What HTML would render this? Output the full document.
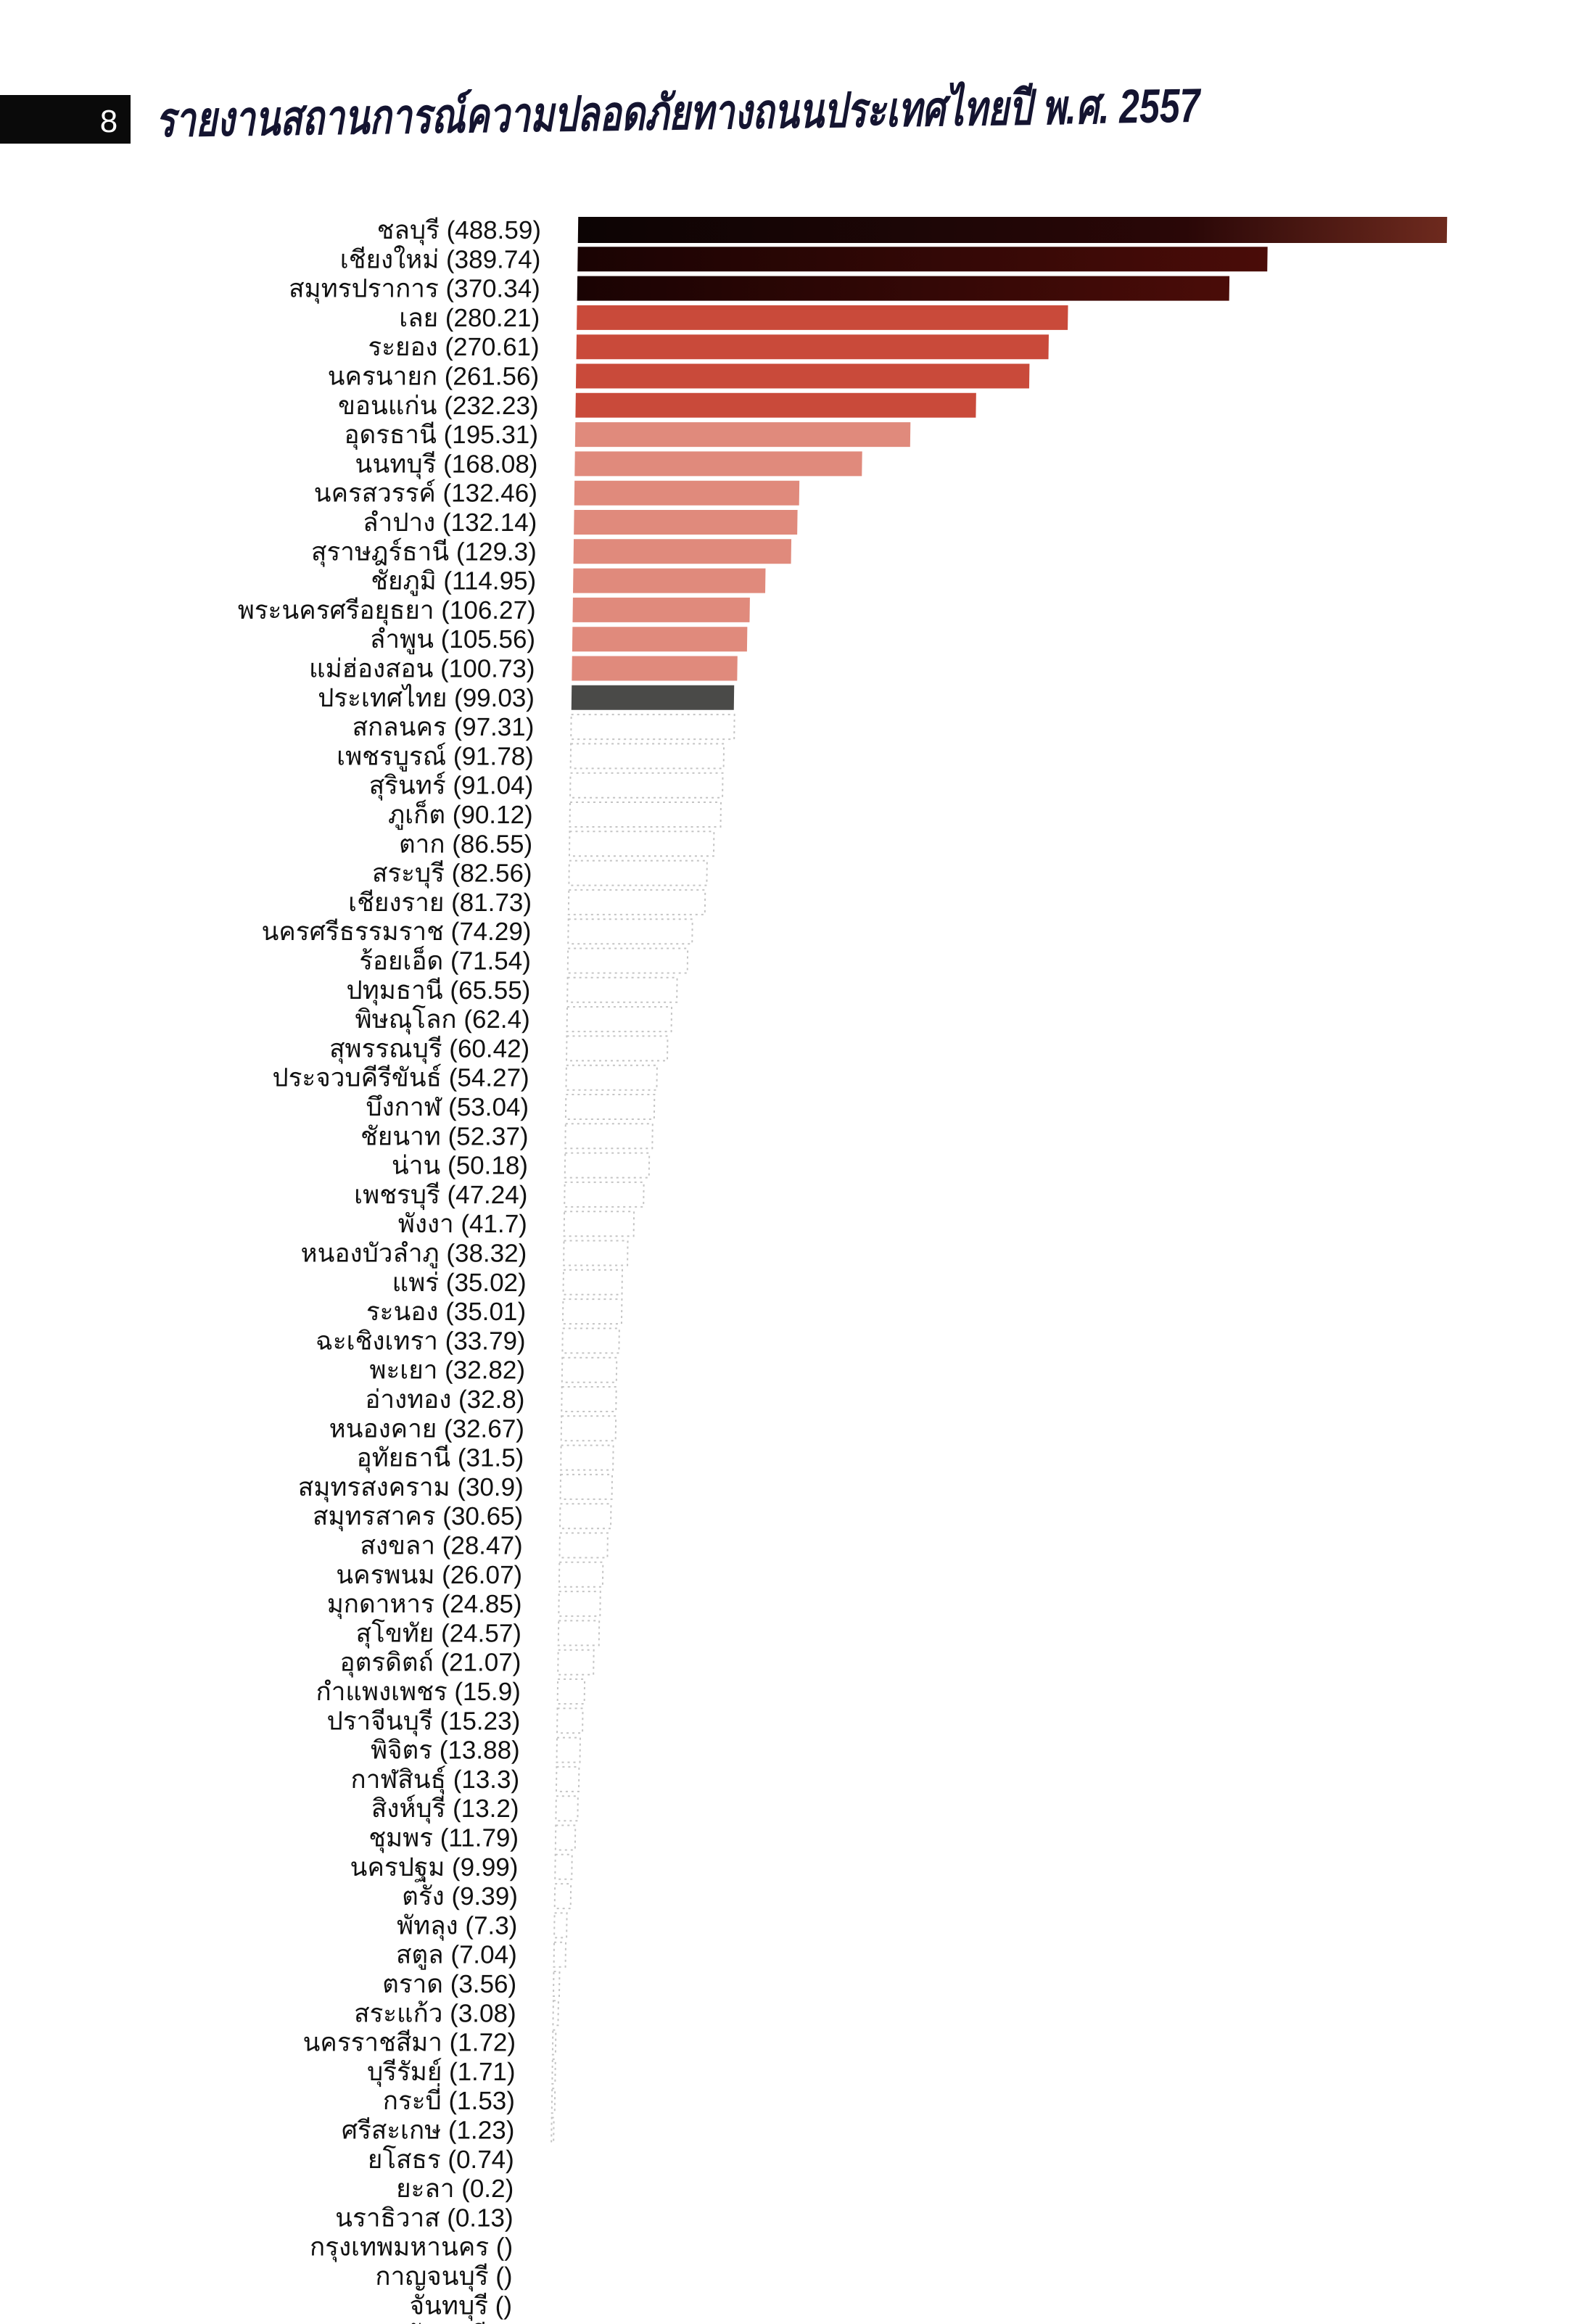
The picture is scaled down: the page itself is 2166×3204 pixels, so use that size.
<!DOCTYPE html>
<html><head><meta charset="utf-8"><style>
html,body{margin:0;padding:0;background:#fff;}
svg{display:block}
.l{font-family:"Liberation Sans","Noto Sans CJK SC",sans-serif;font-size:35px;fill:#111;text-anchor:end}
.d{fill:#fff;stroke:#c4c4c4;stroke-width:2;stroke-dasharray:3 5}
</style></head><body>
<svg width="2166" height="3204" viewBox="0 0 2166 3204" xmlns="http://www.w3.org/2000/svg">
<defs>
<linearGradient id="g1" x1="0" x2="1"><stop offset="0" stop-color="#0c0404"/><stop offset="0.7" stop-color="#2a0707"/><stop offset="1" stop-color="#6e2a1e"/></linearGradient>
<linearGradient id="g2" x1="0" x2="1"><stop offset="0" stop-color="#1a0303"/><stop offset="1" stop-color="#4a0c08"/></linearGradient>
</defs>
<rect x="0" y="131" width="180" height="67" fill="#0a0a0a"/>
<text x="150" y="182" font-family="Liberation Sans,sans-serif" font-size="44" fill="#fff" text-anchor="middle">8</text>
<text x="215" y="188" font-family="Liberation Sans,sans-serif" font-size="66" font-weight="bold" font-style="italic" fill="#141430" transform="rotate(-0.8 215 188)" textLength="1440" lengthAdjust="spacingAndGlyphs">รายงานสถานการณ์ความปลอดภัยทางถนนประเทศไทยปี พ.ศ. 2557</text>
<g transform="translate(0,317) skewX(-0.8)">
<g transform="translate(0,0)"><text class="l" x="746" y="12">ชลบุรี (488.59)</text><rect x="797" y="-18" width="1198" height="36" fill="url(#g1)"/></g>
<g transform="translate(0,40.3)"><text class="l" x="746" y="12">เชียงใหม่ (389.74)</text><rect x="797" y="-17" width="951" height="34" fill="url(#g2)"/></g>
<g transform="translate(0,80.6)"><text class="l" x="746" y="12">สมุทรปราการ (370.34)</text><rect x="797" y="-17" width="899" height="34" fill="url(#g2)"/></g>
<g transform="translate(0,120.9)"><text class="l" x="746" y="12">เลย (280.21)</text><rect x="797" y="-17" width="677" height="34" fill="#c94a3a"/></g>
<g transform="translate(0,161.2)"><text class="l" x="746" y="12">ระยอง (270.61)</text><rect x="797" y="-17" width="651" height="34" fill="#c94a3a"/></g>
<g transform="translate(0,201.5)"><text class="l" x="746" y="12">นครนายก (261.56)</text><rect x="797" y="-17" width="625" height="34" fill="#c94a3a"/></g>
<g transform="translate(0,241.8)"><text class="l" x="746" y="12">ขอนแก่น (232.23)</text><rect x="797" y="-17" width="552" height="34" fill="#c94a3a"/></g>
<g transform="translate(0,282.1)"><text class="l" x="746" y="12">อุดรธานี (195.31)</text><rect x="797" y="-17" width="462" height="34" fill="#e08a7c"/></g>
<g transform="translate(0,322.4)"><text class="l" x="746" y="12">นนทบุรี (168.08)</text><rect x="797" y="-17" width="396" height="34" fill="#e08a7c"/></g>
<g transform="translate(0,362.7)"><text class="l" x="746" y="12">นครสวรรค์ (132.46)</text><rect x="797" y="-17" width="310" height="34" fill="#e08a7c"/></g>
<g transform="translate(0,403)"><text class="l" x="746" y="12">ลำปาง (132.14)</text><rect x="797" y="-17" width="308" height="34" fill="#e08a7c"/></g>
<g transform="translate(0,443.3)"><text class="l" x="746" y="12">สุราษฎร์ธานี (129.3)</text><rect x="797" y="-17" width="300" height="34" fill="#e08a7c"/></g>
<g transform="translate(0,483.6)"><text class="l" x="746" y="12">ชัยภูมิ (114.95)</text><rect x="797" y="-17" width="265" height="34" fill="#e08a7c"/></g>
<g transform="translate(0,523.9)"><text class="l" x="746" y="12">พระนครศรีอยุธยา (106.27)</text><rect x="797" y="-17" width="244" height="34" fill="#e08a7c"/></g>
<g transform="translate(0,564.2)"><text class="l" x="746" y="12">ลำพูน (105.56)</text><rect x="797" y="-17" width="241" height="34" fill="#e08a7c"/></g>
<g transform="translate(0,604.5)"><text class="l" x="746" y="12">แม่ฮ่องสอน (100.73)</text><rect x="797" y="-17" width="228" height="34" fill="#e08a7c"/></g>
<g transform="translate(0,644.8)"><text class="l" x="746" y="12">ประเทศไทย (99.03)</text><rect x="797" y="-17" width="224" height="34" fill="#4a4a48"/></g>
<g transform="translate(0,685.1)"><text class="l" x="746" y="12">สกลนคร (97.31)</text><rect class="d" x="797" y="-17" width="225" height="34"/></g>
<g transform="translate(0,725.4)"><text class="l" x="746" y="12">เพชรบูรณ์ (91.78)</text><rect class="d" x="797" y="-17" width="211" height="34"/></g>
<g transform="translate(0,765.7)"><text class="l" x="746" y="12">สุรินทร์ (91.04)</text><rect class="d" x="797" y="-17" width="210" height="34"/></g>
<g transform="translate(0,806)"><text class="l" x="746" y="12">ภูเก็ต (90.12)</text><rect class="d" x="797" y="-17" width="208" height="34"/></g>
<g transform="translate(0,846.3)"><text class="l" x="746" y="12">ตาก (86.55)</text><rect class="d" x="797" y="-17" width="199" height="34"/></g>
<g transform="translate(0,886.6)"><text class="l" x="746" y="12">สระบุรี (82.56)</text><rect class="d" x="797" y="-17" width="190" height="34"/></g>
<g transform="translate(0,926.9)"><text class="l" x="746" y="12">เชียงราย (81.73)</text><rect class="d" x="797" y="-17" width="188" height="34"/></g>
<g transform="translate(0,967.2)"><text class="l" x="746" y="12">นครศรีธรรมราช (74.29)</text><rect class="d" x="797" y="-17" width="171" height="34"/></g>
<g transform="translate(0,1007.5)"><text class="l" x="746" y="12">ร้อยเอ็ด (71.54)</text><rect class="d" x="797" y="-17" width="165" height="34"/></g>
<g transform="translate(0,1047.8)"><text class="l" x="746" y="12">ปทุมธานี (65.55)</text><rect class="d" x="797" y="-17" width="151" height="34"/></g>
<g transform="translate(0,1088.1)"><text class="l" x="746" y="12">พิษณุโลก (62.4)</text><rect class="d" x="797" y="-17" width="144" height="34"/></g>
<g transform="translate(0,1128.4)"><text class="l" x="746" y="12">สุพรรณบุรี (60.42)</text><rect class="d" x="797" y="-17" width="139" height="34"/></g>
<g transform="translate(0,1168.7)"><text class="l" x="746" y="12">ประจวบคีรีขันธ์ (54.27)</text><rect class="d" x="797" y="-17" width="125" height="34"/></g>
<g transform="translate(0,1209)"><text class="l" x="746" y="12">บึงกาฬ (53.04)</text><rect class="d" x="797" y="-17" width="122" height="34"/></g>
<g transform="translate(0,1249.3)"><text class="l" x="746" y="12">ชัยนาท (52.37)</text><rect class="d" x="797" y="-17" width="120" height="34"/></g>
<g transform="translate(0,1289.6)"><text class="l" x="746" y="12">น่าน (50.18)</text><rect class="d" x="797" y="-17" width="116" height="34"/></g>
<g transform="translate(0,1329.9)"><text class="l" x="746" y="12">เพชรบุรี (47.24)</text><rect class="d" x="797" y="-17" width="109" height="34"/></g>
<g transform="translate(0,1370.2)"><text class="l" x="746" y="12">พังงา (41.7)</text><rect class="d" x="797" y="-17" width="96" height="34"/></g>
<g transform="translate(0,1410.5)"><text class="l" x="746" y="12">หนองบัวลำภู (38.32)</text><rect class="d" x="797" y="-17" width="88" height="34"/></g>
<g transform="translate(0,1450.8)"><text class="l" x="746" y="12">แพร่ (35.02)</text><rect class="d" x="797" y="-17" width="81" height="34"/></g>
<g transform="translate(0,1491.1)"><text class="l" x="746" y="12">ระนอง (35.01)</text><rect class="d" x="797" y="-17" width="81" height="34"/></g>
<g transform="translate(0,1531.4)"><text class="l" x="746" y="12">ฉะเชิงเทรา (33.79)</text><rect class="d" x="797" y="-17" width="78" height="34"/></g>
<g transform="translate(0,1571.7)"><text class="l" x="746" y="12">พะเยา (32.82)</text><rect class="d" x="797" y="-17" width="75" height="34"/></g>
<g transform="translate(0,1612)"><text class="l" x="746" y="12">อ่างทอง (32.8)</text><rect class="d" x="797" y="-17" width="75" height="34"/></g>
<g transform="translate(0,1652.3)"><text class="l" x="746" y="12">หนองคาย (32.67)</text><rect class="d" x="797" y="-17" width="75" height="34"/></g>
<g transform="translate(0,1692.6)"><text class="l" x="746" y="12">อุทัยธานี (31.5)</text><rect class="d" x="797" y="-17" width="72" height="34"/></g>
<g transform="translate(0,1732.9)"><text class="l" x="746" y="12">สมุทรสงคราม (30.9)</text><rect class="d" x="797" y="-17" width="71" height="34"/></g>
<g transform="translate(0,1773.2)"><text class="l" x="746" y="12">สมุทรสาคร (30.65)</text><rect class="d" x="797" y="-17" width="70" height="34"/></g>
<g transform="translate(0,1813.5)"><text class="l" x="746" y="12">สงขลา (28.47)</text><rect class="d" x="797" y="-17" width="66" height="34"/></g>
<g transform="translate(0,1853.8)"><text class="l" x="746" y="12">นครพนม (26.07)</text><rect class="d" x="797" y="-17" width="60" height="34"/></g>
<g transform="translate(0,1894.1)"><text class="l" x="746" y="12">มุกดาหาร (24.85)</text><rect class="d" x="797" y="-17" width="57" height="34"/></g>
<g transform="translate(0,1934.4)"><text class="l" x="746" y="12">สุโขทัย (24.57)</text><rect class="d" x="797" y="-17" width="56" height="34"/></g>
<g transform="translate(0,1974.7)"><text class="l" x="746" y="12">อุตรดิตถ์ (21.07)</text><rect class="d" x="797" y="-17" width="49" height="34"/></g>
<g transform="translate(0,2015)"><text class="l" x="746" y="12">กำแพงเพชร (15.9)</text><rect class="d" x="797" y="-17" width="37" height="34"/></g>
<g transform="translate(0,2055.3)"><text class="l" x="746" y="12">ปราจีนบุรี (15.23)</text><rect class="d" x="797" y="-17" width="35" height="34"/></g>
<g transform="translate(0,2095.6)"><text class="l" x="746" y="12">พิจิตร (13.88)</text><rect class="d" x="797" y="-17" width="32" height="34"/></g>
<g transform="translate(0,2135.9)"><text class="l" x="746" y="12">กาฬสินธุ์ (13.3)</text><rect class="d" x="797" y="-17" width="31" height="34"/></g>
<g transform="translate(0,2176.2)"><text class="l" x="746" y="12">สิงห์บุรี (13.2)</text><rect class="d" x="797" y="-17" width="30" height="34"/></g>
<g transform="translate(0,2216.5)"><text class="l" x="746" y="12">ชุมพร (11.79)</text><rect class="d" x="797" y="-17" width="27" height="34"/></g>
<g transform="translate(0,2256.8)"><text class="l" x="746" y="12">นครปฐม (9.99)</text><rect class="d" x="797" y="-17" width="23" height="34"/></g>
<g transform="translate(0,2297.1)"><text class="l" x="746" y="12">ตรัง (9.39)</text><rect class="d" x="797" y="-17" width="22" height="34"/></g>
<g transform="translate(0,2337.4)"><text class="l" x="746" y="12">พัทลุง (7.3)</text><rect class="d" x="797" y="-17" width="17" height="34"/></g>
<g transform="translate(0,2377.7)"><text class="l" x="746" y="12">สตูล (7.04)</text><rect class="d" x="797" y="-17" width="16" height="34"/></g>
<g transform="translate(0,2418)"><text class="l" x="746" y="12">ตราด (3.56)</text><rect class="d" x="797" y="-17" width="8" height="34"/></g>
<g transform="translate(0,2458.3)"><text class="l" x="746" y="12">สระแก้ว (3.08)</text><rect class="d" x="797" y="-17" width="7" height="34"/></g>
<g transform="translate(0,2498.6)"><text class="l" x="746" y="12">นครราชสีมา (1.72)</text><rect class="d" x="797" y="-17" width="4" height="34"/></g>
<g transform="translate(0,2538.9)"><text class="l" x="746" y="12">บุรีรัมย์ (1.71)</text><rect class="d" x="797" y="-17" width="4" height="34"/></g>
<g transform="translate(0,2579.2)"><text class="l" x="746" y="12">กระบี่ (1.53)</text><rect class="d" x="797" y="-17" width="4" height="34"/></g>
<g transform="translate(0,2619.5)"><text class="l" x="746" y="12">ศรีสะเกษ (1.23)</text><rect class="d" x="797" y="-17" width="3" height="34"/></g>
<g transform="translate(0,2659.8)"><text class="l" x="746" y="12">ยโสธร (0.74)</text></g>
<g transform="translate(0,2700.1)"><text class="l" x="746" y="12">ยะลา (0.2)</text></g>
<g transform="translate(0,2740.4)"><text class="l" x="746" y="12">นราธิวาส (0.13)</text></g>
<g transform="translate(0,2780.7)"><text class="l" x="746" y="12">กรุงเทพมหานคร ()</text></g>
<g transform="translate(0,2821)"><text class="l" x="746" y="12">กาญจนบุรี ()</text></g>
<g transform="translate(0,2861.3)"><text class="l" x="746" y="12">จันทบุรี ()</text></g>
<g transform="translate(0,2901.6)"><text class="l" x="746" y="12">ปัตตานี ()</text></g>
</g>
</svg>
</body></html>
